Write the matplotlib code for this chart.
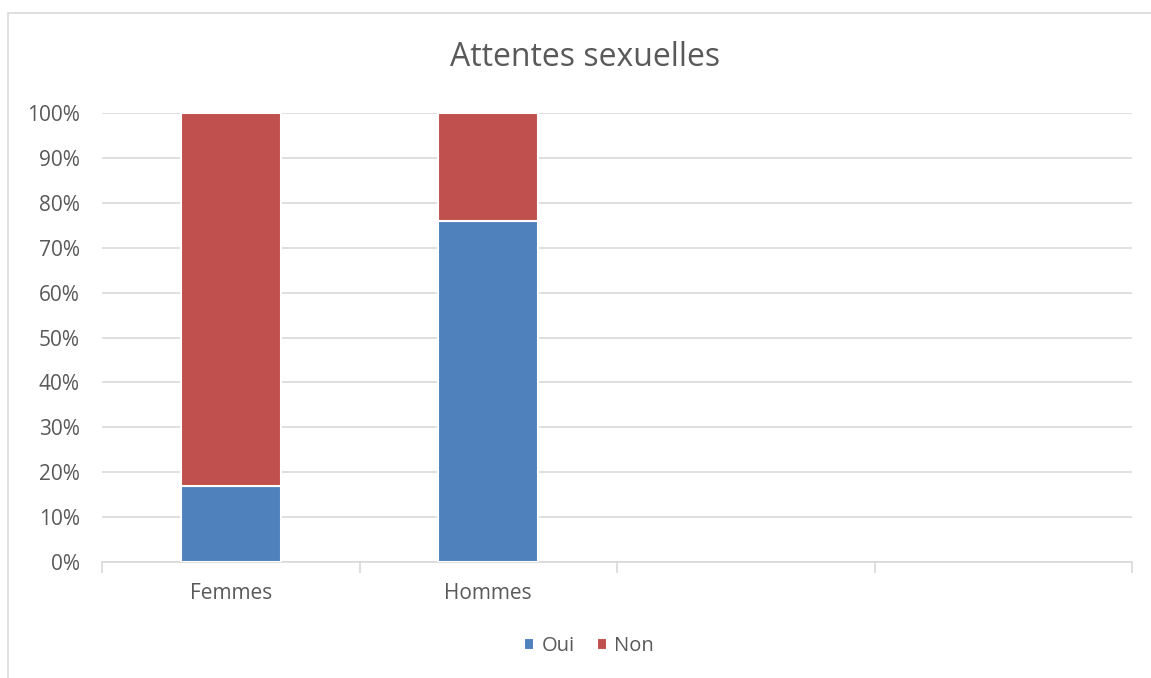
import matplotlib
matplotlib.use("Agg")
import matplotlib.pyplot as plt
from matplotlib.patches import Rectangle
from matplotlib.ticker import FixedLocator, NullFormatter

categories = ["Femmes", "Hommes", "", ""]
oui = [0.17, 0.76, float("nan"), float("nan")]
non = [0.83, 0.24, float("nan"), float("nan")]
yticks = [i / 10 for i in range(11)]
ytick_labels = [f"{i*10}%" for i in range(11)]

plt.rcParams['font.family'] = ['Open Sans', 'DejaVu Sans']

W, H = 1151, 678
fig = plt.figure(figsize=(W / 100, H / 100), dpi=100)
fig.patch.set_facecolor("white")

# outer chart border
fig.patches.append(Rectangle((8 / W, -0.1), 1.2, 1 - 13 / H + 0.1, transform=fig.transFigure,
                             fill=False, edgecolor="#D9D9D9", linewidth=1.2, zorder=0))

ax = fig.add_axes([102 / W, 1 - 562 / H, (1132 - 102) / W, (562 - 113) / H])
x = list(range(len(categories)))
bw = 0.39
blue = "#4F81BD"
red = "#C0504D"
ax.bar(x, oui, width=bw, color=blue, edgecolor="white", linewidth=1.5, label="Oui", zorder=3)
ax.bar(x, non, width=bw, bottom=oui, color=red, edgecolor="white", linewidth=1.5, label="Non", zorder=3)

ax.set_xlim(-0.5, len(categories) - 0.5)
ax.set_ylim(0, 1)
ax.set_yticks(yticks)
ax.set_yticklabels(ytick_labels)
ax.yaxis.grid(True, color="#D9D9D9", linewidth=1.2, zorder=0)
ax.set_axisbelow(True)
for s in ["top", "right", "left"]:
    ax.spines[s].set_visible(False)
ax.spines["bottom"].set_color("#D9D9D9")
ax.spines["bottom"].set_linewidth(1.2)
ax.tick_params(axis="y", length=0, labelsize=15, labelcolor="#595959", pad=16)

ax.set_xticks(x)
ax.set_xticklabels(categories)
ax.tick_params(axis="x", which="major", length=0, labelsize=15, labelcolor="#595959", pad=15)
ax.xaxis.set_minor_locator(FixedLocator([i - 0.5 for i in range(len(categories) + 1)]))
ax.xaxis.set_minor_formatter(NullFormatter())
ax.tick_params(axis="x", which="minor", length=8, width=1.2, color="#D9D9D9")

fig.text(585 / W, 1 - 58 / H, "Attentes sexuelles", ha="center", va="center",
         fontsize=23, color="#595959")

leg = fig.legend(loc="center", bbox_to_anchor=(589 / W, 1 - 646 / H), ncol=2, frameon=False,
                 fontsize=14.5, handlelength=0.5, handleheight=0.5, handletextpad=0.35,
                 columnspacing=1.1, labelcolor="#595959")

fig.savefig("out.png", dpi=100)
